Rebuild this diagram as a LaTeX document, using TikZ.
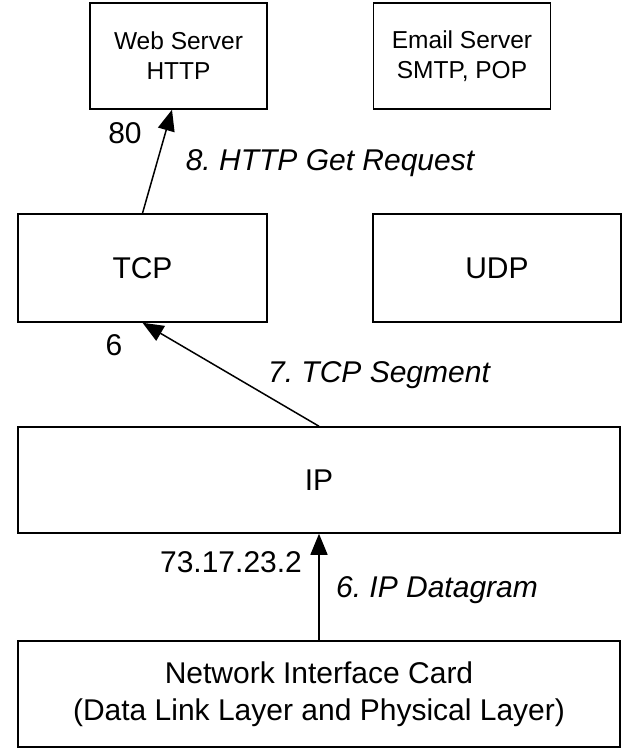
\documentclass[tikz,border=0pt]{standalone}
\usepackage{fontspec}
\setmainfont{Liberation Sans}
\usetikzlibrary{arrows.meta}
\frenchspacing
\begin{document}
\begin{tikzpicture}[x=1pt,y=-1pt,
  layerbox/.style={draw=black,line width=1.5pt,inner sep=0pt,align=center,
    font=\fontsize{30}{37}\selectfont},
  srvbox/.style={layerbox,minimum width=177pt,minimum height=106pt,
    font=\fontsize{24.5}{30}\selectfont},
  lbl/.style={inner sep=0pt,font=\fontsize{30}{36}\selectfont},
  ilbl/.style={lbl,font=\fontsize{30}{36}\selectfont\itshape},
  arr/.style={line width=1.5pt,-{Triangle[length=21pt,width=17pt]}}]
\useasboundingbox (0,0) rectangle (632,748);
\node[srvbox] (web) at (178.5,56) {Web Server\\HTTP};
\node[srvbox] (email) at (462,56) {Email Server\\SMTP, POP};
\node[layerbox,minimum width=249pt,minimum height=108pt] (tcp) at (142.5,268) {TCP};
\node[layerbox,minimum width=248pt,minimum height=108pt] (udp) at (497,268) {UDP};
\node[layerbox,minimum width=602pt,minimum height=106pt] (ip) at (319,480) {IP};
\node[layerbox,minimum width=602pt,minimum height=106pt] (nic) at (319,694)
  {Network Interface Card\\(Data Link Layer and Physical Layer)};
\draw[arr] (tcp.north) -- ([xshift=-6.5pt]web.south);
\draw[arr] (ip.north) -- (tcp.south);
\draw[arr] (nic.north) -- (ip.south);
\node[lbl] (p80) at (125,133) {80};
\node[ilbl] (l8) at (330,163) {8. HTTP Get Request};
\node[lbl] (p6) at (114,345) {6};
\node[ilbl] (l7) at (379,375) {7. TCP Segment};
\node[lbl] (addr) at (231,562) {73.17.23.2};
\node[ilbl] (l6) at (437,590) {6. IP Datagram};
\end{tikzpicture}
\end{document}
